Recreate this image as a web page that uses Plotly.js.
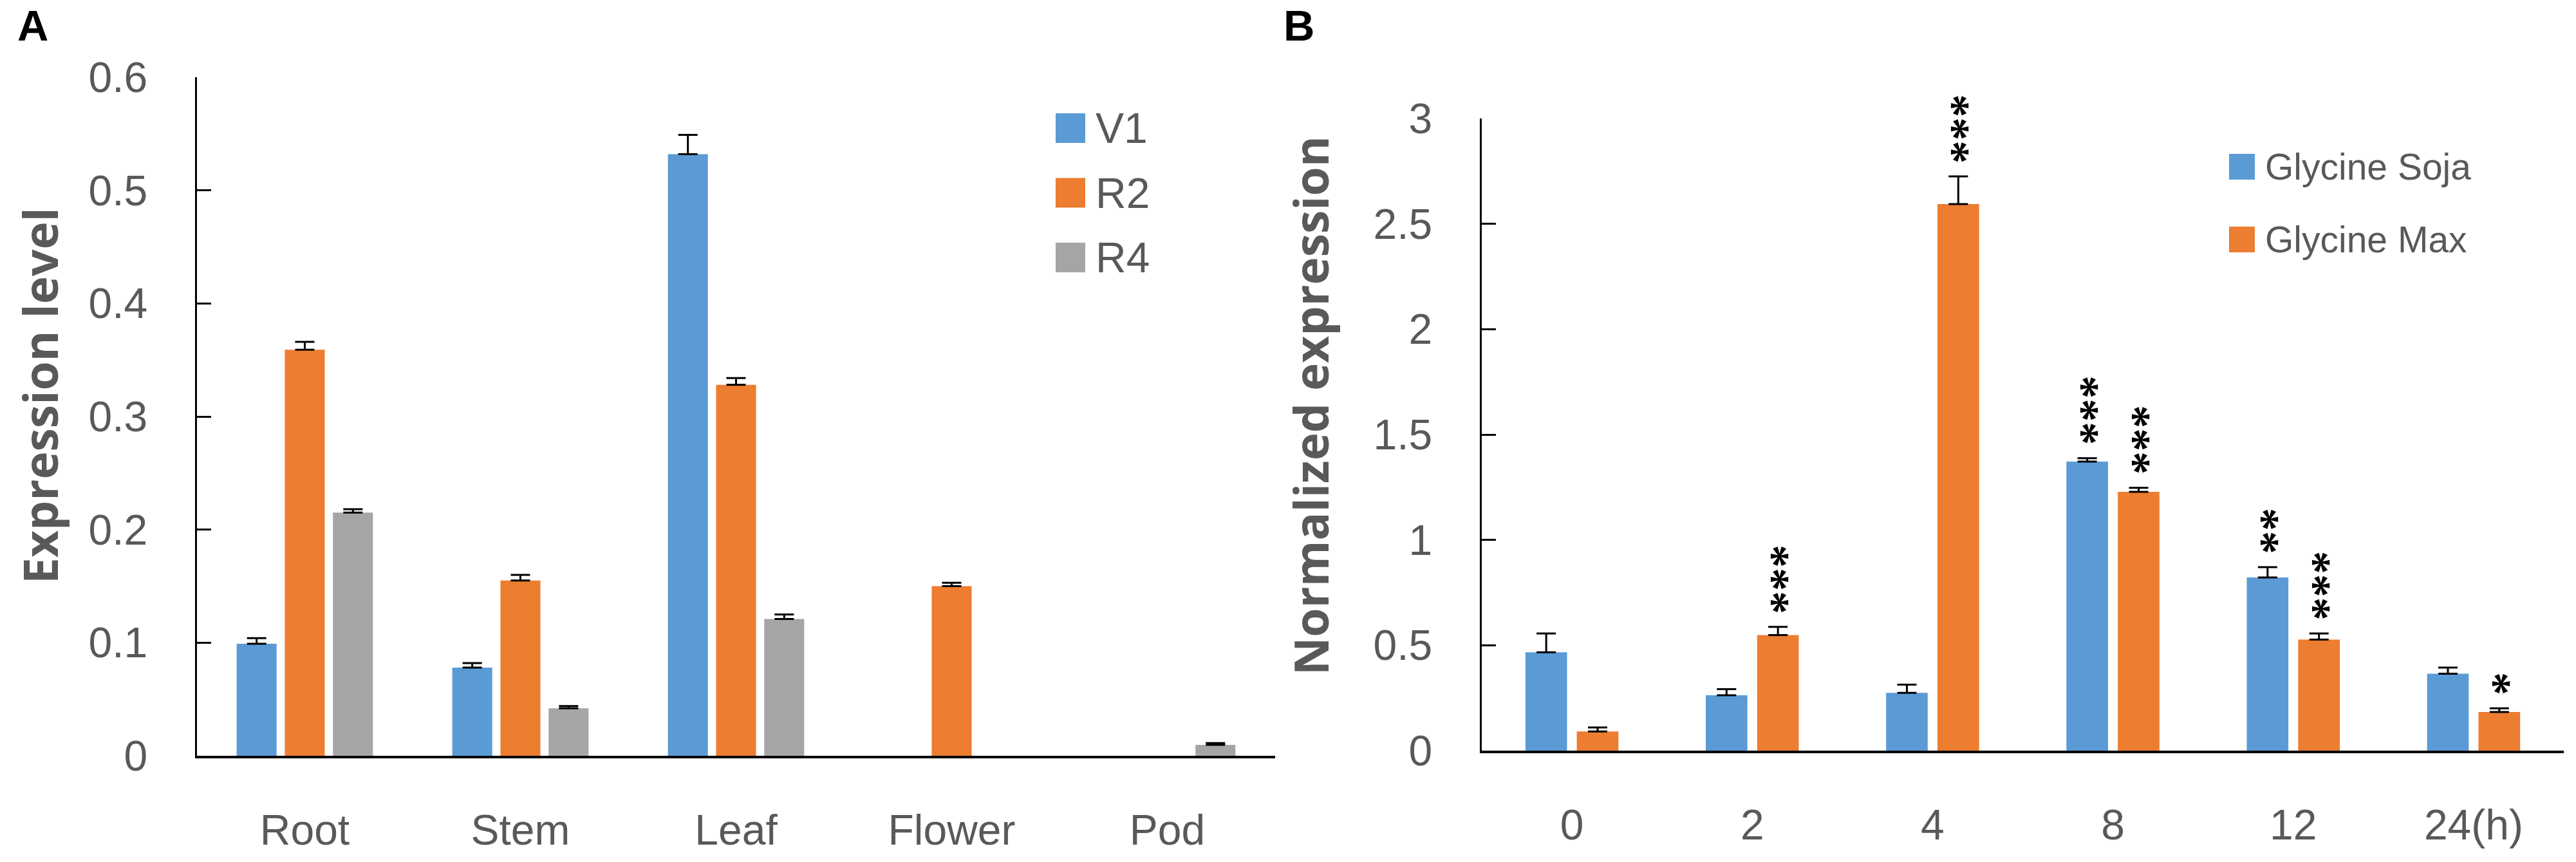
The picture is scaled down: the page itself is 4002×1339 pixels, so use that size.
<!DOCTYPE html>
<html>
<head>
<meta charset="utf-8">
<script src="https://cdn.plot.ly/plotly-3.0.1.min.js"></script>
<style>
  body { margin: 0; background: #fff; }
  #panelA, #panelB { position: absolute; top: 0; }
  #panelA { left: 0; }
  #panelB { left: 1950px; }
</style>
</head>
<body>
<div id="panelA"></div>
<div id="panelB"></div>
<script>
// ---- panel A data: tissues x stages (null = no bar) ----
var tissues = ['Root', 'Stem', 'Leaf', 'Flower', 'Pod'];
var stageNames = ['V1', 'R2', 'R4'];
var v1Level = [0.099, 0.078, 0.532, null, null];
var v1Err   = [0.005, 0.004, 0.017, null, null];
var r2Level = [0.359, 0.155, 0.328, 0.150, null];
var r2Err   = [0.007, 0.005, 0.006, 0.003, null];
var r4Level = [0.215, 0.042, 0.121, null, 0.0097];
var r4Err   = [0.003, 0.002, 0.004, null, 0.0015];

// ---- panel B data: time course, two species ----
var hours = ['0', '2', '4', '8', '12', '24(h)'];
var speciesNames = ['Glycine Soja', 'Glycine Max'];
var sojaExpr = [0.467, 0.263, 0.274, 1.372, 0.822, 0.365];
var sojaErr  = [0.089, 0.029, 0.039, 0.016, 0.049, 0.029];
var maxExpr  = [0.091, 0.548, 2.594, 1.228, 0.527, 0.183];
var maxErr   = [0.019, 0.039, 0.131, 0.019, 0.029, 0.018];
var sojaSig  = ['', '', '', '***', '**', ''];
var maxSig   = ['', '***', '***', '***', '***', '*'];

var BLUE = '#5B9BD5', ORANGE = '#ED7D31', GREY = '#A5A5A5';
var TEXT = '#595959';
var SANS = '"Liberation Sans", Arial, sans-serif';
var TITLE_FONT = '"Open Sans", "Liberation Sans", sans-serif';
var STAR_FONT = '"Liberation Serif", "Times New Roman", serif';

function zeros(a) { return a.map(function () { return 0; }); }

function barTrace(name, x, y, err, color) {
    return {
        type: 'bar', name: name, x: x, y: y,
        marker: { color: color, line: { width: 0 } },
        error_y: {
            type: 'data', symmetric: false, array: err, arrayminus: zeros(err),
            color: '#000', thickness: 3, width: 15
        },
        showlegend: false
    };
}

// pixel frame of a div and its plot area, for paper-referenced items
// (x values given in page pixels, shifted by the div's left offset)
function makeBox(left, w, l, r, t, b) {
    var pw = w - l - r, ph = 1339 - t - b;
    return {
        w: w, l: l, r: r, t: t, b: b,
        px: function (x) { return (x - left - l) / pw; },
        py: function (y) { return 1 - (y - t) / ph; }
    };
}

function legendItems(box, names, colors, x0, y0, size, pitch, fontSize) {
    var shapes = [], notes = [];
    names.forEach(function (n, i) {
        var cy = y0 + i * pitch;
        shapes.push({
            type: 'rect', xref: 'paper', yref: 'paper',
            x0: box.px(x0), x1: box.px(x0 + size),
            y0: box.py(cy + size / 2), y1: box.py(cy - size / 2),
            fillcolor: colors[i], line: { width: 0 }
        });
        notes.push({
            xref: 'paper', yref: 'paper', x: box.px(x0 + size + 14), y: box.py(cy),
            xanchor: 'left', yanchor: 'middle', showarrow: false, text: n,
            font: { family: SANS, size: fontSize, color: TEXT }
        });
    });
    return { shapes: shapes, notes: notes };
}

// rotated y-axis title and the panel letter
function panelTexts(box, letter, letterX, title, titleX, titleY) {
    return [{
        xref: 'paper', yref: 'paper', x: box.px(letterX), y: box.py(0),
        xanchor: 'left', yanchor: 'top', showarrow: false, text: letter,
        font: { family: SANS, size: 67, color: '#000', weight: 'bold' }
    }, {
        xref: 'paper', yref: 'paper', x: box.px(titleX), y: box.py(titleY),
        xanchor: 'center', yanchor: 'middle', textangle: -90,
        showarrow: false, text: title,
        font: { family: TITLE_FONT, size: 73, color: TEXT, weight: 'bold' }
    }];
}

function axisY(range, dtick) {
    return {
        range: range, dtick: dtick, fixedrange: true,
        showline: true, linecolor: '#000', linewidth: 3.5,
        ticks: 'inside', ticklen: 22, tickwidth: 3, tickcolor: '#000',
        ticklabelstandoff: 60,
        showgrid: false, zeroline: false,
        tickfont: { family: SANS, size: 66, color: TEXT }
    };
}

function axisX() {
    return {
        type: 'category', fixedrange: true,
        showline: true, linecolor: '#000', linewidth: 3.5,
        ticks: '', showgrid: false, zeroline: false,
        ticklabelstandoff: 55,
        tickfont: { family: SANS, size: 66, color: TEXT }
    };
}

// ---------- panel A ----------
var boxA = makeBox(0, 1990, 306, 9, 120, 165);
var legA = legendItems(boxA, stageNames, [BLUE, ORANGE, GREY], 1640, 199, 46, 100.5, 66);
var notesA = legA.notes.concat(panelTexts(boxA, 'A', 25, 'Expression level', 61, 614));

Plotly.newPlot('panelA', [
    barTrace(stageNames[0], tissues, v1Level, v1Err, BLUE),
    barTrace(stageNames[1], tissues, r2Level, r2Err, ORANGE),
    barTrace(stageNames[2], tissues, r4Level, r4Err, GREY)
], {
    width: boxA.w, height: 1339,
    margin: { l: boxA.l, r: boxA.r, t: boxA.t, b: boxA.b },
    paper_bgcolor: '#fff', plot_bgcolor: '#fff',
    barmode: 'group', bargap: 0.33, bargroupgap: 0.17,
    xaxis: axisX(),
    yaxis: axisY([0, 0.6], 0.1),
    shapes: legA.shapes,
    annotations: notesA,
    hovermode: false
}, { staticPlot: true });

// ---------- panel B ----------
var BARGAP_B = 0.43;
var boxB = makeBox(1950, 2052, 352, 19, 184, 173);
var legB = legendItems(boxB, speciesNames, [BLUE, ORANGE], 3463, 259, 40, 113, 57);
var notesB = legB.notes.concat(panelTexts(boxB, 'B', 1992, 'Normalized expression', 2035, 630));

// significance stars, written upward above each error bar
var half = (1 - BARGAP_B) / 4;
function addStars(sig, vals, errs, side) {
    sig.forEach(function (s, i) {
        if (!s) return;
        notesB.push({
            xref: 'x', yref: 'y', x: i + side * half, y: vals[i] + errs[i],
            xanchor: 'center', yanchor: 'bottom', yshift: 18, xshift: 12,
            textangle: -90, showarrow: false, text: s,
            font: { family: STAR_FONT, size: 72, color: '#000', weight: 'bold' }
        });
    });
}
addStars(sojaSig, sojaExpr, sojaErr, -1);
addStars(maxSig, maxExpr, maxErr, 1);

Plotly.newPlot('panelB', [
    barTrace(speciesNames[0], hours, sojaExpr, sojaErr, BLUE),
    barTrace(speciesNames[1], hours, maxExpr, maxErr, ORANGE)
], {
    width: boxB.w, height: 1339,
    margin: { l: boxB.l, r: boxB.r, t: boxB.t, b: boxB.b },
    paper_bgcolor: 'rgba(0,0,0,0)', plot_bgcolor: 'rgba(0,0,0,0)',
    barmode: 'group', bargap: BARGAP_B, bargroupgap: 0.19,
    xaxis: axisX(),
    yaxis: axisY([0, 3], 0.5),
    shapes: legB.shapes,
    annotations: notesB,
    hovermode: false
}, { staticPlot: true });
</script>
</body>
</html>
